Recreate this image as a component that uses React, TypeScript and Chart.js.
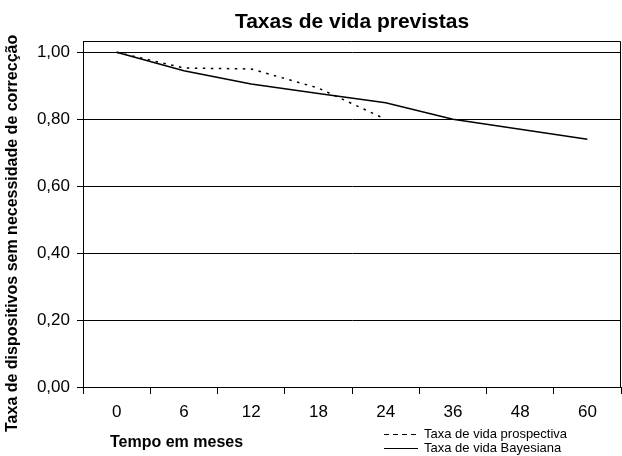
import React, { useEffect, useRef } from "react";
import { Chart, registerables } from "chart.js";

Chart.register(...registerables);

const TITLE = "Taxas de vida previstas";
const Y_TITLE = "Taxa de dispositivos sem necessidade de correcção";
const X_TITLE = "Tempo em meses";
const MONTHS = ["0", "6", "12", "18", "24", "36", "48", "60"];
const PROSPECTIVE_LABEL = "Taxa de vida prospectiva";
const PROSPECTIVE = [1.0, 0.953, 0.95, 0.893, 0.8, null, null, null];
const BAYES_LABEL = "Taxa de vida Bayesiana";
const BAYES = [1.0, 0.945, 0.905, 0.877, 0.849, 0.8, 0.77, 0.74];

const FONT = "'Liberation Sans', Arial, Helvetica, sans-serif";

const decorPlugin = {
  id: "decor",
  afterDraw(chart: any) {
    const { ctx, chartArea } = chart;
    ctx.save();
    // plot area box (top & right)
    ctx.strokeStyle = "#000";
    ctx.lineWidth = 1;
    ctx.beginPath();
    ctx.moveTo(chartArea.left, Math.round(chartArea.top) + 0.5);
    ctx.lineTo(Math.round(chartArea.right) - 0.5, Math.round(chartArea.top) + 0.5);
    ctx.lineTo(Math.round(chartArea.right) - 0.5, chartArea.bottom);
    ctx.stroke();

    // y title
    ctx.fillStyle = "#000";
    ctx.font = `bold 16px ${FONT}`;
    ctx.save();
    ctx.translate(13, 432);
    ctx.rotate(-Math.PI / 2);
    ctx.textAlign = "left";
    ctx.textBaseline = "middle";
    ctx.fillText(Y_TITLE, 0, 0);
    ctx.restore();

    // x title
    ctx.textAlign = "left";
    ctx.textBaseline = "middle";
    ctx.fillText(X_TITLE, 110, 443);

    // legend
    ctx.font = `13px ${FONT}`;
    chart.data.datasets.forEach((ds: any, i: number) => {
      const y = 434 + i * 14;
      ctx.save();
      ctx.strokeStyle = ds.borderColor;
      ctx.lineWidth = 1;
      ctx.setLineDash(ds.borderDash && ds.borderDash.length ? [5, 4] : []);
      ctx.beginPath();
      ctx.moveTo(384, y + 0.5);
      ctx.lineTo(418, y + 0.5);
      ctx.stroke();
      ctx.restore();
      ctx.fillText(ds.label, 424, y);
    });
    ctx.restore();
  },
};

export default function App() {
  const ref = useRef<HTMLCanvasElement>(null);
  useEffect(() => {
    const chart = new Chart(ref.current as HTMLCanvasElement, {
      type: "line",
      data: {
        labels: MONTHS,
        datasets: [
          {
            label: PROSPECTIVE_LABEL,
            data: PROSPECTIVE,
            borderColor: "#000",
            borderWidth: 1.5,
            borderDash: [2.5, 5.5],
            pointRadius: 0,
            tension: 0,
            fill: false,
          },
          {
            label: BAYES_LABEL,
            data: BAYES,
            borderColor: "#000",
            borderWidth: 1.5,
            pointRadius: 0,
            tension: 0,
            fill: false,
          },
        ],
      },
      options: {
        responsive: false,
        animation: false,
        devicePixelRatio: 1,
        layout: { padding: { left: 0, right: 1, top: 0, bottom: 0 } },
        plugins: {
          legend: { display: false },
          tooltip: { enabled: false },
          title: {
            display: true,
            text: TITLE,
            fullSize: false,
            color: "#000",
            font: { family: FONT, size: 21, weight: "bold" },
            padding: { top: 10, bottom: 6 },
          },
        },
        scales: {
          x: {
            type: "category",
            offset: true,
            grid: {
              offset: true,
              drawOnChartArea: false,
              drawTicks: true,
              tickLength: 7,
              color: "#000",
            },
            border: { display: true, color: "#000" },
            ticks: {
              color: "#000",
              font: { family: FONT, size: 17 },
              padding: 8,
              maxRotation: 0,
              autoSkip: false,
            },
            afterFit: (s: any) => {
              s.height = 69;
            },
          },
          y: {
            min: 0,
            max: 1.033,
            grid: { color: "#000", tickLength: 6 },
            border: { display: true, color: "#000" },
            ticks: {
              stepSize: 0.2,
              includeBounds: false,
              color: "#000",
              font: { family: FONT, size: 17 },
              padding: 7,
              callback: (v: any) => Number(v).toFixed(2).replace(".", ","),
            },
            afterFit: (s: any) => {
              s.width = 83;
            },
          },
        },
      },
      plugins: [decorPlugin],
    });
    return () => chart.destroy();
  }, []);
  return (
    <div style={{ position: "absolute", left: 0, top: 0, width: 622, height: 456 }}>
      <canvas ref={ref} width={622} height={456} style={{ display: "block" }} />
    </div>
  );
}
